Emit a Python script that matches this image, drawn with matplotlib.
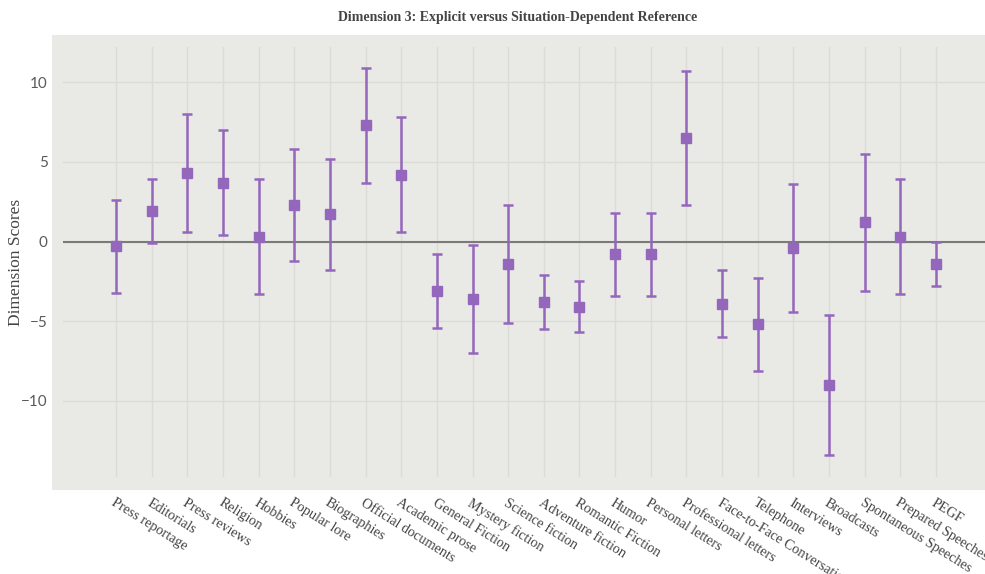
import matplotlib
matplotlib.use("Agg")
from matplotlib import pyplot as plt
from matplotlib.patches import Rectangle

# Register categories, mean dimension scores and +/- spread
registers = ["Press reportage", "Editorials", "Press reviews", "Religion", "Hobbies",
             "Popular lore", "Biographies", "Official documents", "Academic prose",
             "General Fiction", "Mystery fiction", "Science fiction", "Adventure fiction",
             "Romantic Fiction", "Humor", "Personal letters", "Professional letters",
             "Face-to-Face Conversation", "Telephone", "Interviews", "Broadcasts",
             "Spontaneous Speeches", "Prepared Speeches", "PEGF"]
means = [-0.3, 1.9, 4.3, 3.7, 0.3, 2.3, 1.7, 7.3, 4.2, -3.1, -3.6, -1.4,
         -3.8, -4.1, -0.8, -0.8, 6.5, -3.9, -5.2, -0.4, -9.0, 1.2, 0.3, -1.4]
spread = [2.9, 2.0, 3.7, 3.3, 3.6, 3.5, 3.5, 3.6, 3.6, 2.3, 3.4, 3.7,
          1.7, 1.6, 2.6, 2.6, 4.2, 2.1, 2.9, 4.0, 4.4, 4.3, 3.6, 1.4]
y_ticks = [-10, -5, 0, 5, 10]

purple = "#9467bd"
bg = "#e9e9e5"

fig = plt.figure(figsize=(9.85, 5.74), dpi=100)
fig.patch.set_facecolor("white")

# panel background, a bit larger than the plotting area
fig.patches.append(Rectangle((52 / 985, 84 / 574), 933 / 985, 455 / 574,
                             transform=fig.transFigure, facecolor=bg,
                             edgecolor="none", zorder=-1))

ax = fig.add_axes([63 / 985, 97 / 574, 922 / 985, 430 / 574])
ax.set_facecolor("none")

x = list(range(len(registers)))
ax.axhline(0, color="#7a7a78", lw=1.5, zorder=2)
ax.errorbar(x, means, yerr=spread, fmt="s", color=purple, ecolor=purple,
            markersize=7, elinewidth=1.8, capsize=3.3, capthick=1.8, zorder=3)

ax.set_xlim(-1.49, 24.38)
ax.set_ylim(-14.78, 12.21)
ax.set_yticks(y_ticks)
ax.set_yticklabels([str(v).replace("-", "\u2212") for v in y_ticks],
                   fontfamily="Lato", fontsize=11, color="#5a5a5a")
ax.set_xticks(x)
ax.set_xticklabels(registers, rotation=-32, ha="left", rotation_mode="anchor",
                   fontfamily="Liberation Serif", fontsize=10.2, color="#444444")
ax.tick_params(axis="x", length=0, pad=14)
ax.tick_params(axis="y", length=0, pad=11)
ax.grid(True, color="#dcdcd7", lw=1)
ax.set_axisbelow(True)
for s in ax.spines.values():
    s.set_visible(False)

ax.set_ylabel("Dimension Scores", fontfamily="Liberation Serif", fontsize=12.5,
              color="#444444")
ax.yaxis.set_label_coords(-39 / 922, 0.5)
fig.text(518 / 985, 1 - 18 / 574, "Dimension 3: Explicit versus Situation-Dependent Reference",
         ha="center", va="center", fontfamily="Liberation Serif", fontweight="bold",
         fontsize=10, color="#444444")

fig.savefig("out.png", dpi=100)
